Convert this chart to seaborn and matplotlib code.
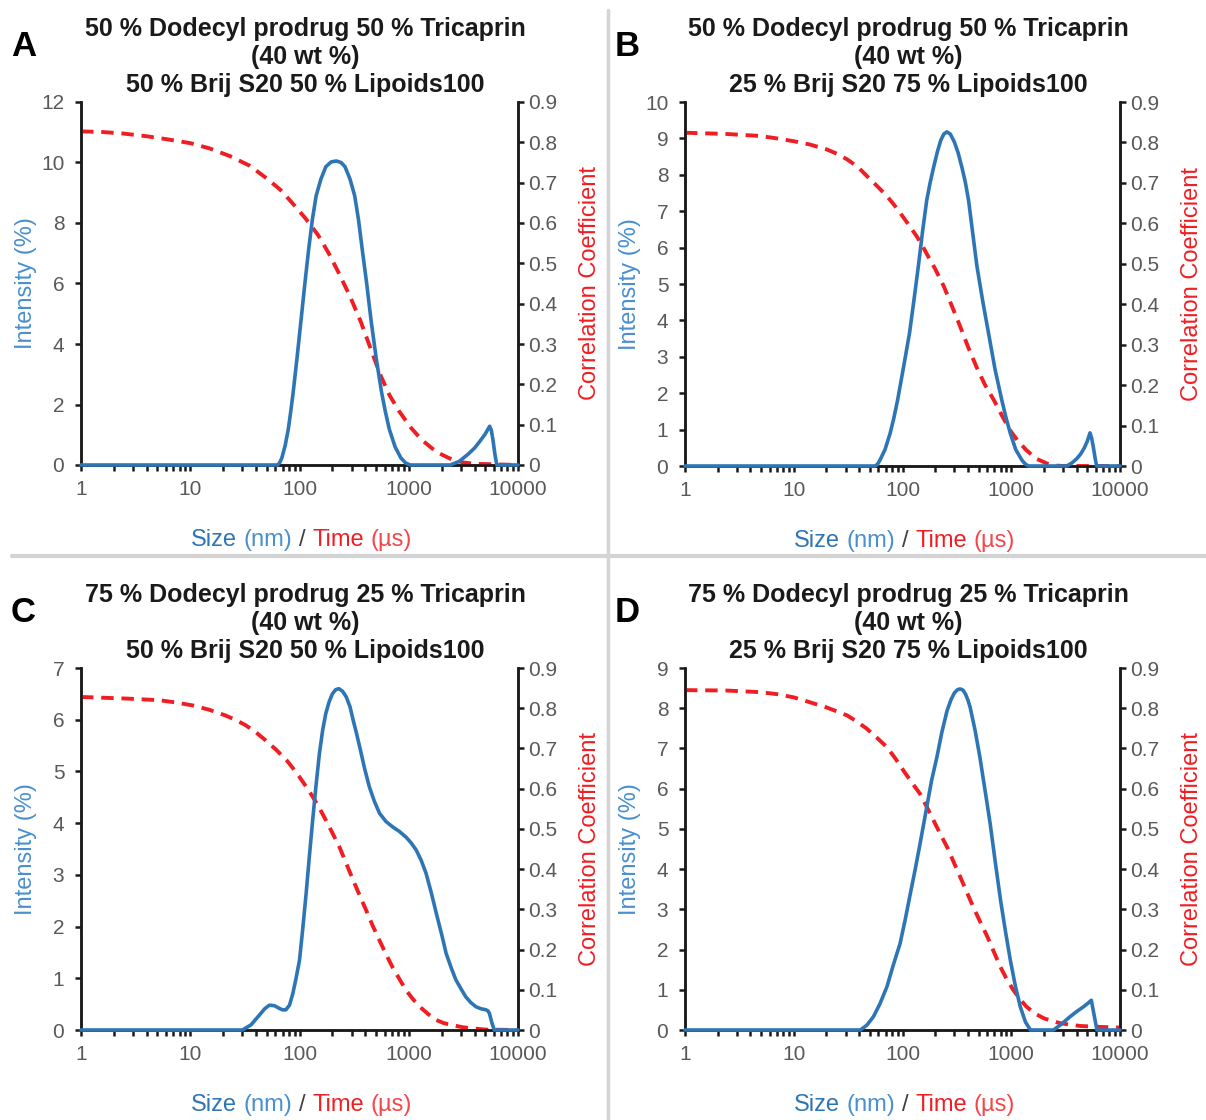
import numpy as np
import pandas as pd
import matplotlib
matplotlib.use("Agg")
import matplotlib.pyplot as plt
from matplotlib.ticker import FixedLocator, LogLocator, NullFormatter
from matplotlib.lines import Line2D
import seaborn as sns

# ====================
# 1. DATA
# ====================
# A : 50 % prodrug / 50 % Brij
a_size = [1, 63, 66, 69, 74, 79, 83, 87.5, 95, 103, 112, 121, 131, 142, 157, 174, 195, 217, 240, 261, 290, 320,
          347, 376, 412, 453, 505, 564, 612, 663, 750, 845, 940, 1035,
          2400, 2900, 3500, 4000, 4450, 5000, 5500, 5700, 5900, 6150, 6400, 10000]
a_int = [0, 0, 0.08, 0.24, 0.65, 1.19, 1.75, 2.4, 3.55, 4.75, 6.0, 7.1, 8.1, 8.9, 9.45, 9.86, 10.02, 10.05, 10.0,
         9.86, 9.45, 8.9, 8.1, 7.1, 6.0, 4.75, 3.5, 2.4, 1.75, 1.19, 0.6, 0.24, 0.06, 0,
         0, 0.12, 0.36, 0.56, 0.77, 1.02, 1.28, 1.15, 0.83, 0.35, 0, 0]
a_time = [1, 1.5, 2.4, 4, 6, 10, 15, 23, 35, 51, 67, 85, 113, 148, 185, 224, 290, 363, 450, 550, 670, 813,
          1050, 1318, 1800, 2512, 3200, 4000, 10000]
a_corr = [0.827, 0.826, 0.822, 0.815, 0.808, 0.798, 0.785, 0.766, 0.742, 0.709, 0.682, 0.651, 0.612, 0.570,
          0.525, 0.481, 0.418, 0.356, 0.287, 0.223, 0.172, 0.134, 0.092, 0.062, 0.032, 0.013, 0.006, 0.003, 0.0]

# B : 50 % prodrug / 25 % Brij
b_size = [1, 56, 59, 62, 69, 77, 83, 90, 102, 116, 128, 140, 153, 167, 180, 193, 210, 225, 240, 256, 275, 300,
          325, 352, 378, 405, 440, 483, 545, 618, 710, 820, 900, 980, 1100, 1254, 1350, 1445,
          3240, 3600, 4000, 4350, 4700, 5000, 5300, 5500, 5700, 5900, 6100, 10000]
b_int = [0, 0, 0.05, 0.16, 0.45, 0.9, 1.3, 1.8, 2.7, 3.65, 4.6, 5.5, 6.45, 7.3, 7.8, 8.2, 8.65, 8.95, 9.12, 9.18,
         9.12, 8.9, 8.6, 8.2, 7.8, 7.3, 6.45, 5.5, 4.55, 3.65, 2.65, 1.8, 1.3, 0.9, 0.45, 0.16, 0.05, 0,
         0, 0.08, 0.2, 0.33, 0.5, 0.68, 0.91, 0.75, 0.5, 0.22, 0, 0]
b_time = [1, 2.4, 4.9, 7, 10, 14, 20, 25, 31, 39, 47, 58, 72, 83, 95, 113, 135, 150, 166, 200, 240, 285, 339,
          400, 479, 575, 692, 820, 977, 1150, 1380, 1700, 2140, 2600, 3000, 10000]
b_corr = [0.824, 0.821, 0.816, 0.810, 0.803, 0.795, 0.783, 0.772, 0.758, 0.739, 0.717, 0.693, 0.667, 0.647,
          0.626, 0.598, 0.568, 0.548, 0.526, 0.487, 0.444, 0.395, 0.345, 0.295, 0.245, 0.200, 0.163, 0.125,
          0.088, 0.062, 0.039, 0.018, 0.006, 0.001, 0.0, 0.0]

# C : 75 % prodrug / 50 % Brij
c_size = [1, 30, 36, 43, 48, 53, 59, 65, 70, 75, 81, 87, 93, 100, 107, 115, 123, 132, 142, 152, 163, 174, 187,
          200, 214, 229, 248, 268, 290, 310, 333, 356, 395, 436, 485, 540, 620, 710, 820, 944, 1050, 1170,
          1300, 1440, 1610, 1790, 2000, 2200, 2450, 2700, 3000, 3330, 3700, 4120, 4600, 5100, 5300, 5480,
          5750, 6060, 10000]
c_int = [0, 0, 0.1, 0.29, 0.41, 0.48, 0.47, 0.42, 0.39, 0.39, 0.48, 0.71, 1.0, 1.35, 1.95, 2.64, 3.35, 4.06,
         4.75, 5.34, 5.8, 6.12, 6.35, 6.5, 6.58, 6.6, 6.55, 6.44, 6.25, 5.99, 5.73, 5.47, 5.05, 4.70, 4.42,
         4.19, 4.03, 3.93, 3.84, 3.73, 3.62, 3.48, 3.28, 3.03, 2.65, 2.25, 1.85, 1.48, 1.2, 0.97, 0.8, 0.64,
         0.53, 0.45, 0.41, 0.39, 0.37, 0.32, 0.15, 0, 0]
c_time = [1, 2.6, 5.2, 7.5, 10.5, 15, 21, 26, 32, 40, 49, 61, 76, 87, 100, 115, 132, 152, 174, 200, 232, 268,
          309, 355, 407, 466, 537, 615, 708, 820, 944, 1090, 1259, 1500, 1778, 2100, 2512, 3100, 3846, 5000,
          10000]
c_corr = [0.828, 0.824, 0.820, 0.814, 0.807, 0.796, 0.782, 0.771, 0.758, 0.740, 0.720, 0.697, 0.671, 0.651,
          0.629, 0.605, 0.580, 0.552, 0.522, 0.490, 0.455, 0.414, 0.373, 0.335, 0.298, 0.260, 0.224, 0.190,
          0.157, 0.127, 0.099, 0.077, 0.058, 0.040, 0.025, 0.017, 0.012, 0.007, 0.004, 0.001, 0.0]

# D : 75 % prodrug / 25 % Brij
d_size = [1, 41, 47, 54, 62, 72, 82, 95, 106, 118, 131, 145, 156, 167, 185, 207, 230, 257, 280, 300, 320, 339,
          360, 380, 400, 419, 465, 515, 575, 640, 715, 797, 885, 980, 1090, 1210, 1350, 1500,
          2450, 2900, 3470, 4000, 4630, 5100, 5450, 5800, 6140, 10000]
d_int = [0, 0, 0.12, 0.33, 0.65, 1.08, 1.6, 2.15, 2.75, 3.39, 4.0, 4.63, 5.1, 5.54, 6.2, 6.78, 7.4, 7.94, 8.22,
         8.38, 8.46, 8.48, 8.45, 8.35, 8.2, 8.02, 7.45, 6.78, 5.95, 5.13, 4.15, 3.23, 2.45, 1.74, 1.1, 0.58,
         0.2, 0, 0, 0.15, 0.33, 0.46, 0.58, 0.67, 0.74, 0.35, 0, 0]
d_time = [1, 2.4, 4.9, 7, 10, 14, 20, 25, 31, 38, 47, 58, 72, 86, 102, 122, 145, 167, 193, 222, 257, 295, 339,
          390, 447, 520, 603, 690, 794, 910, 1047, 1200, 1380, 1650, 1995, 2400, 2818, 3500, 4315, 6000, 10000]
d_corr = [0.845, 0.844, 0.840, 0.835, 0.827, 0.815, 0.802, 0.792, 0.782, 0.767, 0.749, 0.727, 0.703, 0.675,
          0.645, 0.615, 0.587, 0.555, 0.521, 0.488, 0.455, 0.418, 0.381, 0.343, 0.306, 0.268, 0.232, 0.195,
          0.157, 0.126, 0.099, 0.077, 0.058, 0.041, 0.029, 0.022, 0.017, 0.013, 0.010, 0.008, 0.006]

letters = ["A", "B", "C", "D"]
titles = [
    "50 % Dodecyl prodrug 50 % Tricaprin\n(40 wt %)\n50 % Brij S20 50 % Lipoids100",
    "50 % Dodecyl prodrug 50 % Tricaprin\n(40 wt %)\n25 % Brij S20 75 % Lipoids100",
    "75 % Dodecyl prodrug 25 % Tricaprin\n(40 wt %)\n50 % Brij S20 50 % Lipoids100",
    "75 % Dodecyl prodrug 25 % Tricaprin\n(40 wt %)\n25 % Brij S20 75 % Lipoids100",
]
int_max = [12, 10, 7, 9]
int_step = [2, 1, 1, 1]
corr_ticks = [0, 0.1, 0.2, 0.3, 0.4, 0.5, 0.6, 0.7, 0.8, 0.9]
corr_labels = ["0", "0.1", "0.2", "0.3", "0.4", "0.5", "0.6", "0.7", "0.8", "0.9"]
size_ticks = [1, 10, 100, 1000, 10000]
size_labels = ["1", "10", "100", "1000", "10000"]

sizes = [a_size, b_size, c_size, d_size]
ints = [a_int, b_int, c_int, d_int]
times = [a_time, b_time, c_time, d_time]
corrs = [a_corr, b_corr, c_corr, d_corr]

# ====================
# 2. STYLE
# ====================
sns.set_style("ticks")
plt.rcParams['font.family'] = ['Liberation Sans', 'DejaVu Sans']

BLUE = "#2E75B6"
BLUE_LT = "#4A8FD0"
RED = "#F01E23"
RED_LT = "#F5474B"
GRAY = "#595959"
INK = "#1a1a1a"

W, H = 1206, 1120
fig = plt.figure(figsize=(W / 100, H / 100), dpi=100)

# axes boxes in pixels: left, top, right, bottom
boxes = [(81, 102, 518, 465), (685, 102, 1120, 466), (81, 668, 518, 1030), (685, 668, 1120, 1030)]

for i in range(4):
    l, t, r, b = boxes[i]
    ax = fig.add_axes([l / W, 1 - b / H, (r - l) / W, (b - t) / H])
    ax2 = ax.twinx()

    df_i = pd.DataFrame({"size": sizes[i], "intensity": ints[i]})
    df_c = pd.DataFrame({"time": times[i], "corr": corrs[i]})

    sns.lineplot(data=df_c, x="time", y="corr", ax=ax2, color=RED, linewidth=2.8,
                 linestyle=(0, (3.2, 2.0)), sort=False, clip_on=False, zorder=3)
    sns.lineplot(data=df_i, x="size", y="intensity", ax=ax, color=BLUE, linewidth=2.6,
                 sort=False, clip_on=False, zorder=4)
    # blue on top of the red curve
    ax.set_zorder(ax2.get_zorder() + 1)
    ax.patch.set_visible(False)

    for a in (ax, ax2):
        a.set_xscale("log")
        a.set_xlim(1, 10000)
        a.set_xlabel("")
        a.set_ylabel("")
        a.spines["top"].set_visible(False)
        for s in ("left", "right", "bottom"):
            a.spines[s].set_linewidth(1.8)
            a.spines[s].set_color(INK)

    ax.set_ylim(0, int_max[i])
    ax.set_yticks(np.arange(0, int_max[i] + 0.01, int_step[i]))
    ax2.set_ylim(0, 0.9)
    ax2.set_yticks(corr_ticks)
    ax2.set_yticklabels(corr_labels)

    ax.xaxis.set_major_locator(FixedLocator(size_ticks))
    ax.set_xticklabels(size_labels)
    ax.xaxis.set_minor_locator(LogLocator(base=10, subs=range(2, 10)))
    ax.xaxis.set_minor_formatter(NullFormatter())

    ax.tick_params(axis="x", which="both", direction="out", length=4.5, width=1.8,
                   color=INK, labelsize=15, labelcolor=GRAY, pad=6)
    ax.tick_params(axis="y", direction="out", length=4, width=1.8, color=INK,
                   labelsize=15, labelcolor=GRAY, pad=8)
    ax2.tick_params(axis="y", direction="out", length=4, width=1.8, color=INK,
                    labelsize=15, labelcolor=GRAY, pad=3)

    cx = (l + r) / 2
    # title and panel letter
    fig.text((cx + 6) / W, 1 - (t - 85) / H, titles[i], ha="center", va="top", fontsize=18,
             fontweight="bold", color=INK, linespacing=1.2)
    fig.text((l - 70) / W, 1 - (t - 72) / H, letters[i], ha="left", va="top", fontsize=25,
             fontweight="bold", color="black")

    # y labels
    fig.text((l - 55) / W, 1 - (t + b) / 2 / H, "Intensity (%)", rotation=90, ha="center",
             va="center", fontsize=17, color=BLUE_LT)
    fig.text((r + 72) / W, 1 - (t + b) / 2 / H, "Correlation Coefficient", rotation=90,
             ha="center", va="center", fontsize=17, color=RED)

    # coloured x label built from pieces
    parts = [("Size", BLUE), ("(nm)", BLUE_LT), ("/", "#404040"), ("Time", RED), ("(µs)", RED_LT)]
    ylab = 1 - (b + 75) / H
    pieces = [fig.text(0, ylab, s, color=c, fontsize=17, ha="left", va="center") for s, c in parts]
    renderer = fig.canvas.get_renderer()
    widths = [p.get_window_extent(renderer).width for p in pieces]
    gap = 0.28 * 17 * 100 / 72
    total = sum(widths) + gap * (len(widths) - 1)
    x0 = cx + 2 - total / 2
    for p, w in zip(pieces, widths):
        p.set_x(x0 / W)
        x0 += w + gap

# panel separators
fig.add_artist(Line2D([608 / W, 608 / W], [1 - 10 / H, 0], color="#d4d4d4", linewidth=2.5))
fig.add_artist(Line2D([12 / W, 1], [1 - 556 / H, 1 - 556 / H], color="#d4d4d4", linewidth=3))

fig.savefig("out.png", dpi=100, facecolor="white")
